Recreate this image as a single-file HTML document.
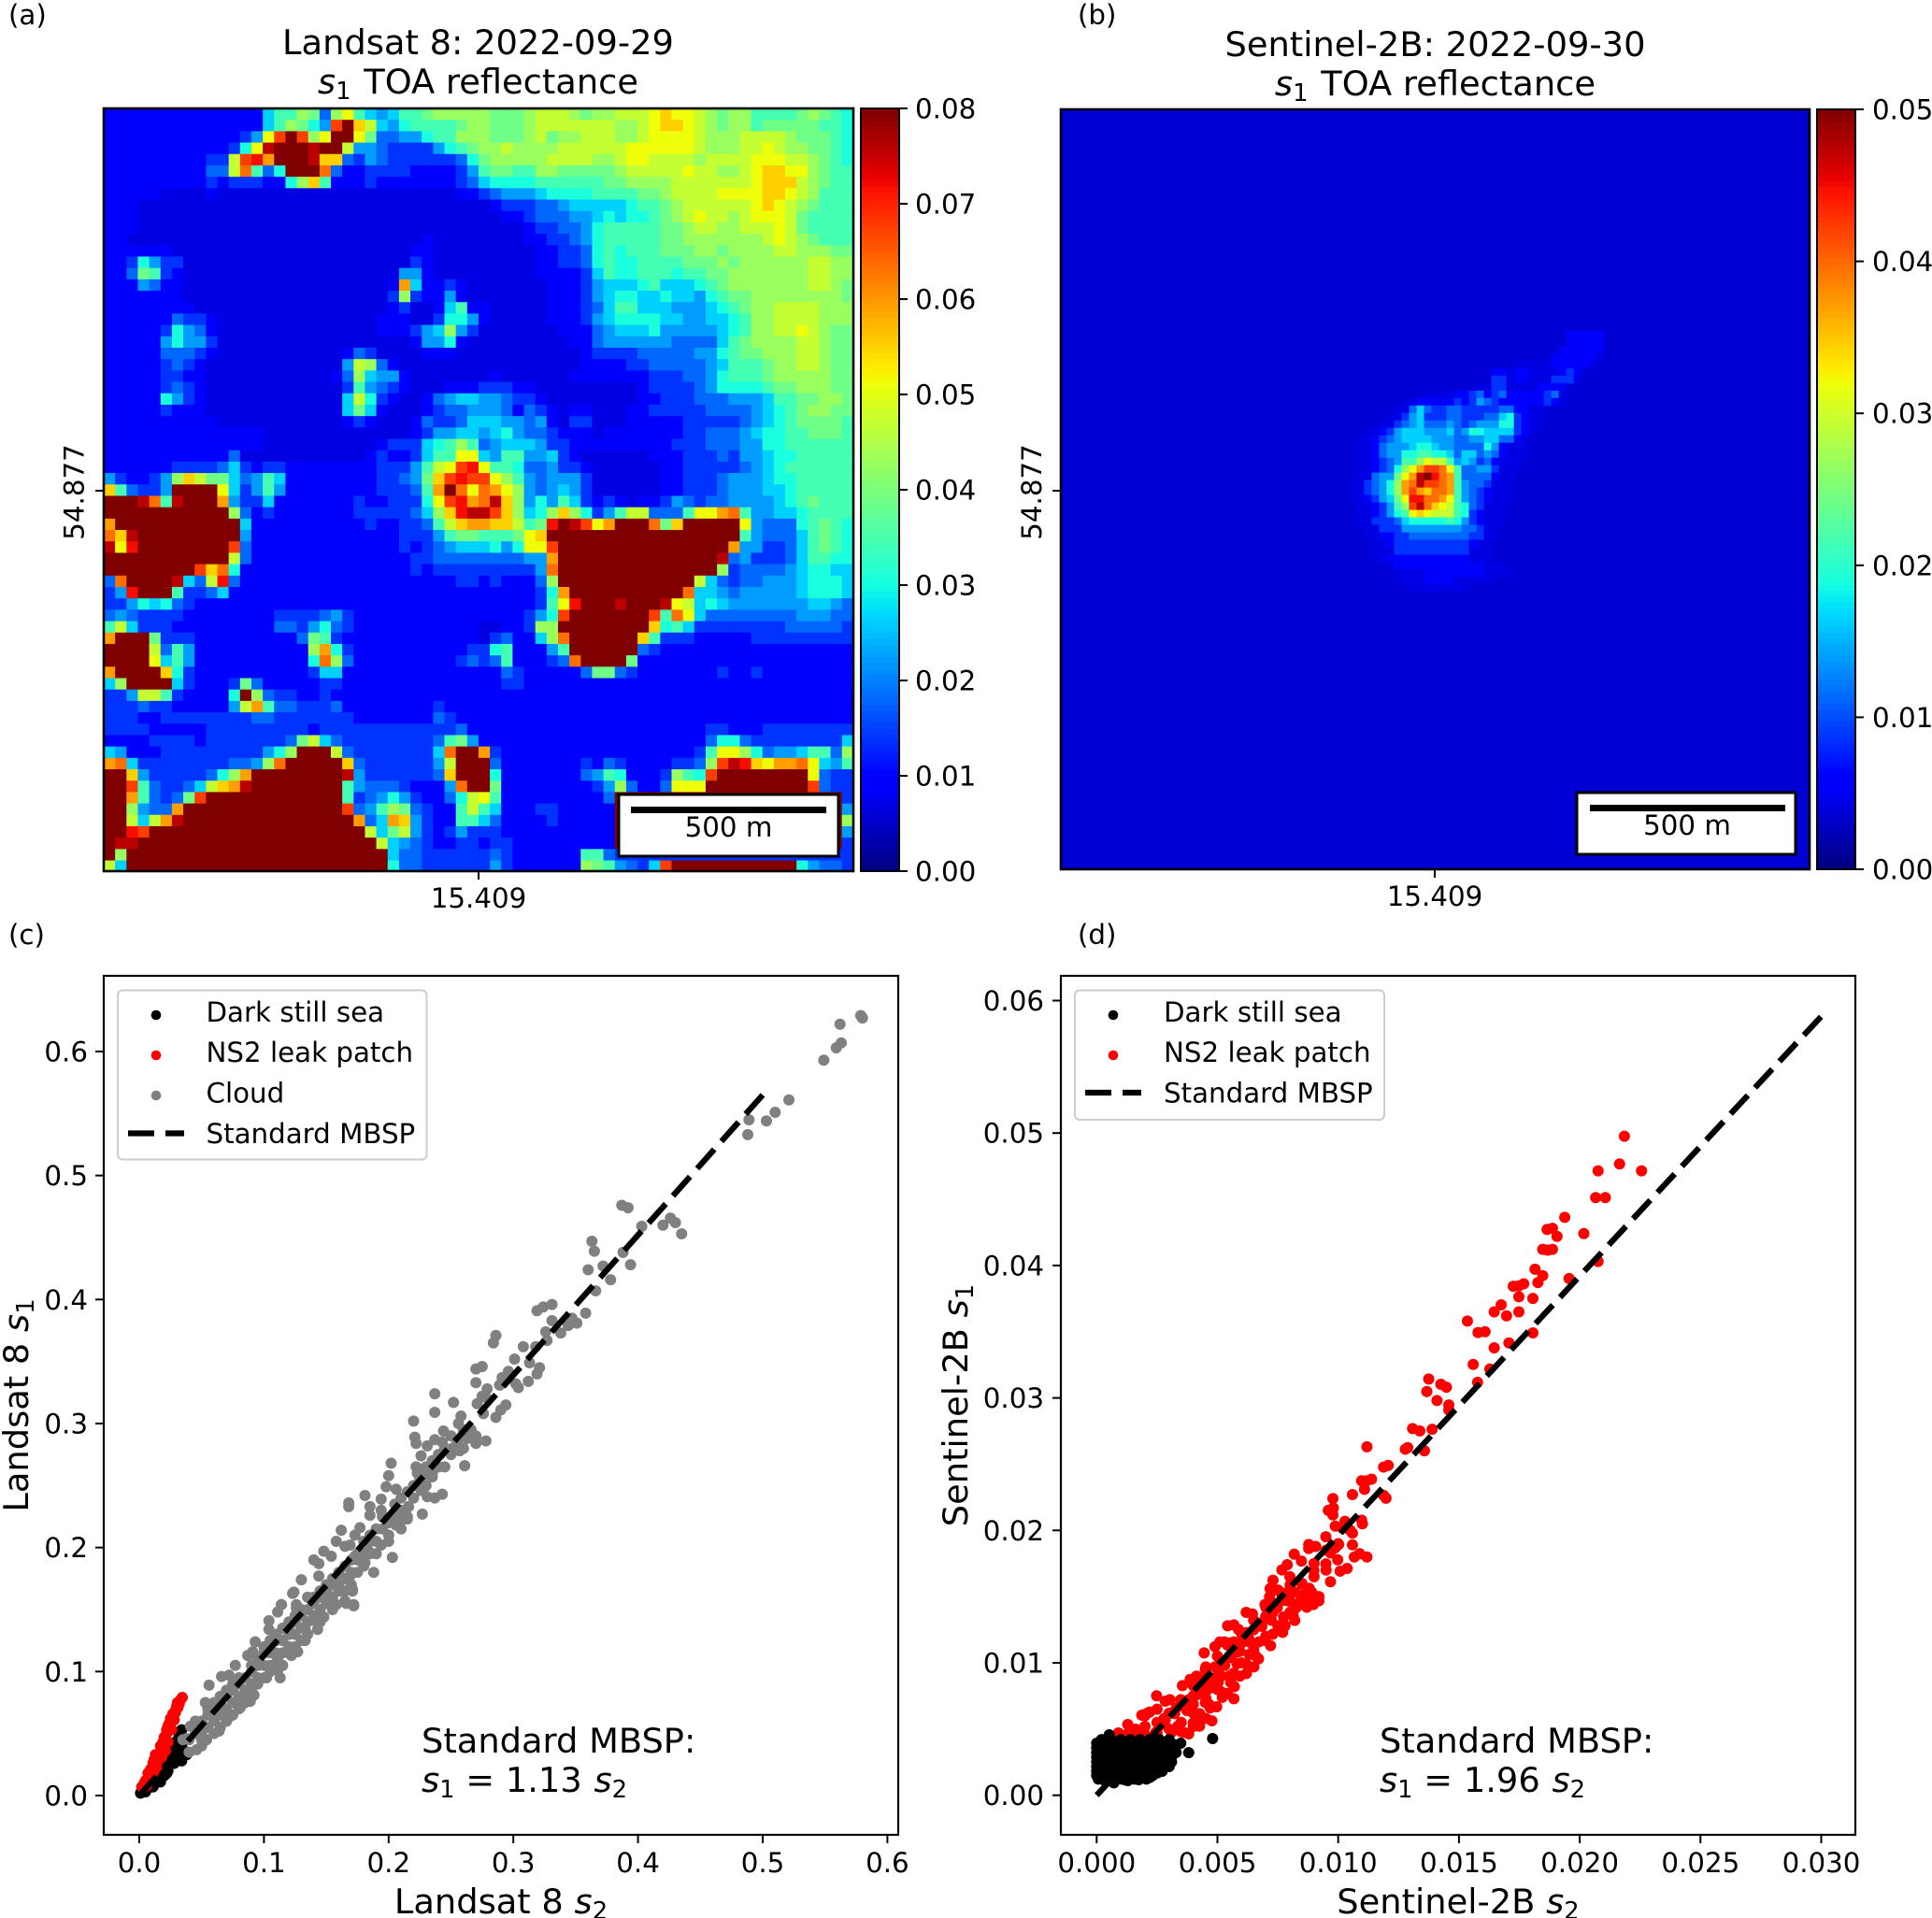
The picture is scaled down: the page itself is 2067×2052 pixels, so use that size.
<!DOCTYPE html>
<html lang="en">
<head>
<meta charset="utf-8">
<title>Landsat 8 and Sentinel-2B s1 TOA reflectance</title>
<style>
html,body{margin:0;padding:0;background:#fff}
svg{display:block}
text{font-family:"DejaVu Sans","Liberation Sans",sans-serif;fill:#000}
.tl{font-size:29.3px}
.ti{font-size:36.8px}
</style>
</head>
<body>
<svg id="fig" xmlns="http://www.w3.org/2000/svg" width="2067" height="2052" viewBox="0 0 2067 2052">
<defs>
<clipPath id="clipA"><rect x="111" y="116" width="802" height="816"/></clipPath>
<clipPath id="clipB"><rect x="1135" y="117" width="801" height="813"/></clipPath>
</defs>
<rect x="0" y="0" width="2067" height="2052" fill="#fff"/>
<g id="heatA" clip-path="url(#clipA)"></g>
<g id="heatB" clip-path="url(#clipB)"></g>
<g id="cbarA"></g>
<g id="cbarB"></g>
<g id="plotC"></g>
<g id="plotD"></g>

<rect x="111" y="116" width="802" height="816" fill="none" stroke="#000" stroke-width="2.6"/>
<rect x="1135" y="117" width="801" height="813" fill="none" stroke="#000" stroke-width="2.6"/>
<rect x="111" y="1044" width="850" height="919" fill="none" stroke="#000" stroke-width="2.2"/>
<rect x="1135" y="1044" width="850" height="919" fill="none" stroke="#000" stroke-width="2.2"/>

<text x="9" y="26" class="tl">(a)</text>
<text x="1153" y="26" class="tl">(b)</text>
<text x="9" y="1010" class="tl">(c)</text>
<text x="1153" y="1010" class="tl">(d)</text>

<text x="511.5" y="58" text-anchor="middle" class="ti">Landsat 8: 2022-09-29</text>
<text x="511.5" y="100" text-anchor="middle" class="ti"><tspan font-style="italic">s</tspan><tspan font-size="25.8" dy="6">1</tspan><tspan dy="-6" dx="2"> TOA reflectance</tspan></text>
<text x="1535.5" y="60" text-anchor="middle" class="ti">Sentinel-2B: 2022-09-30</text>
<text x="1535.5" y="102" text-anchor="middle" class="ti"><tspan font-style="italic">s</tspan><tspan font-size="25.8" dy="6">1</tspan><tspan dy="-6" dx="2"> TOA reflectance</tspan></text>

<line x1="102" y1="525" x2="111" y2="525" stroke="#000" stroke-width="2"/>
<text transform="translate(89.5,526.5) rotate(-90)" text-anchor="middle" class="tl">54.877</text>
<line x1="512" y1="932" x2="512" y2="941" stroke="#000" stroke-width="2"/>
<text x="512" y="971" text-anchor="middle" class="tl">15.409</text>
<line x1="1126" y1="525" x2="1135" y2="525" stroke="#000" stroke-width="2"/>
<text transform="translate(1114,526.5) rotate(-90)" text-anchor="middle" class="tl">54.877</text>
<line x1="1535" y1="930" x2="1535" y2="939" stroke="#000" stroke-width="2"/>
<text x="1535" y="969" text-anchor="middle" class="tl">15.409</text>

<g>
<rect x="662" y="850" width="235" height="66" fill="#fff" stroke="#000" stroke-width="3"/>
<rect x="675" y="863" width="209" height="7" fill="#000"/>
<text x="779.5" y="895" text-anchor="middle" class="tl">500 m</text>
</g>
<g>
<rect x="1687" y="848" width="234" height="66" fill="#fff" stroke="#000" stroke-width="3"/>
<rect x="1701" y="861" width="209" height="7" fill="#000"/>
<text x="1805" y="893" text-anchor="middle" class="tl">500 m</text>
</g>

<g>
<rect x="126" y="1059.5" width="330.5" height="181" rx="5" fill="#fff" fill-opacity="0.8" stroke="#ccc" stroke-width="2"/>
<circle cx="167" cy="1086" r="5.3" fill="#000"/>
<text x="220.5" y="1093" class="tl">Dark still sea</text>
<circle cx="167" cy="1129" r="5.3" fill="#f00"/>
<text x="220.5" y="1136" class="tl">NS2 leak patch</text>
<circle cx="167" cy="1172" r="5.3" fill="#808080"/>
<text x="220.5" y="1179.5" class="tl">Cloud</text>
<line x1="137" y1="1212.5" x2="197" y2="1212.5" stroke="#000" stroke-width="6.3" stroke-dasharray="28 12"/>
<text x="220.5" y="1223" class="tl">Standard MBSP</text>
</g>
<g>
<rect x="1150" y="1059.5" width="331" height="138.5" rx="5" fill="#fff" fill-opacity="0.8" stroke="#ccc" stroke-width="2"/>
<circle cx="1191" cy="1086" r="5.3" fill="#000"/>
<text x="1245" y="1093" class="tl">Dark still sea</text>
<circle cx="1191" cy="1129" r="5.3" fill="#f00"/>
<text x="1245" y="1136" class="tl">NS2 leak patch</text>
<line x1="1161" y1="1169" x2="1221" y2="1169" stroke="#000" stroke-width="6.3" stroke-dasharray="28 12"/>
<text x="1245" y="1179.5" class="tl">Standard MBSP</text>
</g>

<text x="451" y="1875" class="ti">Standard MBSP:</text>
<text x="451" y="1917" class="ti"><tspan font-style="italic">s</tspan><tspan font-size="25.8" dy="6">1</tspan><tspan dy="-6"> = 1.13 </tspan><tspan font-style="italic" dx="1">s</tspan><tspan font-size="25.8" dy="6">2</tspan></text>
<text x="1476" y="1875" class="ti">Standard MBSP:</text>
<text x="1476" y="1917" class="ti"><tspan font-style="italic">s</tspan><tspan font-size="25.8" dy="6">1</tspan><tspan dy="-6"> = 1.96 </tspan><tspan font-style="italic" dx="1">s</tspan><tspan font-size="25.8" dy="6">2</tspan></text>

<text x="536" y="2047" text-anchor="middle" class="ti">Landsat 8 <tspan font-style="italic">s</tspan><tspan font-size="25.8" dy="6">2</tspan></text>
<text x="1560" y="2047" text-anchor="middle" class="ti">Sentinel-2B <tspan font-style="italic">s</tspan><tspan font-size="25.8" dy="6">2</tspan></text>
<text transform="translate(30,1503.5) rotate(-90)" text-anchor="middle" class="ti">Landsat 8 <tspan font-style="italic">s</tspan><tspan font-size="25.8" dy="6">1</tspan></text>
<text transform="translate(1035,1503.5) rotate(-90)" text-anchor="middle" class="ti">Sentinel-2B <tspan font-style="italic">s</tspan><tspan font-size="25.8" dy="6">1</tspan></text>
</svg>

<script>
// ---------- shared level alphabet of the heatmaps (lowest to saturated) ----------
const heatLevels = "0123456789abcdefghij";
const vmaxA = 0.08;
const vmaxB = 0.05;
const colorbarTicksA = [0, 0.01, 0.02, 0.03, 0.04, 0.05, 0.06, 0.07, 0.08];
const colorbarTicksB = [0, 0.01, 0.02, 0.03, 0.04, 0.05];

// ---------- panel (a) Landsat 8 s1: columns 0-32 ----------
const heatARowsLeft = [
"22222222222222688a94ac8656889aaaa",
"2222222222222268a975gjdb65788889a",
"22222222222235cgjgacjjc94455788aa",
"2222222222237cijjjijjb55433335789",
"22222222233bghejjjidd435433333347",
"22222222244bf847jjjf4223333222235",
"22222222232333227ad82223222222234",
"222221111211111111111111111111122",
"222111111111111111111111111111111",
"222111111111111111111111111111111",
"222111111111111111111111111111111",
"221111111111111111111111111121111",
"222222111111111111111111111221111",
"2237533"+"11111111111111111111"+"321111",
"2249832"+"1111111111111111111"+"5521111",
"2225422"+"111111111111111111"+"2e622321",
"2222222"+"111111111111111111"+"3a322521",
"22222222"+"11111111111111111"+"23112682",
"222222"+"4332"+"11111111111111"+"222"+"11"+"3775",
"22222"+"37542"+"11111111111111"+"222"+"3"+"56a53",
"22222"+"57553"+"11111111111111111"+"255721",
"22222"+"44432"+"11111111111"+"243"+"1111"+"222"+"11",
"22222"+"34321"+"11111111111"+"5ba42"+"1111111",
"22222"+"33221"+"1111111111"+"2"+"4a6552"+"111111",
"22222"+"34321"+"11111111111"+"385432"+"111"+"222",
"22222"+"75321"+"11111111111"+"6b73211"+"24566",
"22222"+"32221"+"11111111111"+"696211123445",
"2222222222"+"11111111111"+"232111243346",
"22222222222222"+"1111111"+"111111235566",
"22222222222222"+"1111111"+"1112333678a8",
"22222222222"+"4"+"11111111111"+"23223688cc",
"222222"+"3333"+"46"+"32332"+"2222222"+"33358bcgh",
"532235adb99645862"+"2222222"+"33459dghg",
"d84335jjjjc635852"+"2222222"+"33348ejfc",
"jjjif8ijjje53362"+"222222"+"3223337cghe",
"jjjjjjjjjjj"+"a423"+"2222222"+"3333346adhi",
"e"+"jjjjjjjjjjj"+"6"+"2222222222"+"3223348bde",
"fdi"+"jjjjjjjjj"+"5"+"2222222222222"+"3335899",
"ich"+"jjjjjjjj"+"g4"+"2222222222222"+"3234566",
"jjjjjjjjjjj"+"b4"+"22222222222222"+"334444",
"jjjjjjjj"+"gdf7"+"222222222222222"+"323333",
"4fjjjji64bh4"+"2222222222222222222"+"33",
"35hjjj83346"+"2222222222222222222222",
"33576743"+"2222222222222222222222222",
"4543333"+"22222222"+"3333453"+"22222222222",
"8b6333"+"222222222"+"4435743"+"22222222222",
"ejjj9333"+"22222222"+"249832"+"22222222222",
"jjjjb485"+"222222222"+"2ae73"+"2222222222"+"3",
"jjjjc685"+"2222222222"+"7fa4"+"222222222"+"34",
"ejjjjd73"+"2222222222"+"3662"+"22222222222",
"6ajjjj63"+"222"+"394"+"22222"+"33"+"222222222222",
"335bb83"+"2222"+"7ja433"+"22"+"3"+"2222222222222",
"3334332"+"2222"+"5be8443334"+"22222222"+"3222",
"3332233333333"+"4433333"+"332222222"+"4322",
"333322222333333333"+"23"+"3333333333"+"342",
"2222333323333333"+"49b64"+"33333333"+"4895",
"65222333333333"+"57ajjjb4"+"3333333"+"6fjj",
"ef6"+"3333333"+"3445"+"af"+"jjjjj"+"d4"+"333333"+"5bjj",
"jjd5333334"+"7ae"+"jjjjjjjj"+"i5"+"333333"+"4djj",
"jjg843346bdei"+"jjjjjjjj"+"854443"+"222"+"5fj",
"jje84349g"+"jjjjjjjjjjjj"+"8345753"+"22"+"47b",
"jja544e"+"jjjjjjjjjjjjjj"+"g458a943"+"22"+"8b",
"jjb6bei"+"jjjjjjjjjjjjjjj"+"e46ed53"+"22"+"88",
"jjhg"+"jjjjjjjjjjjjjjjjjjj"+"b69b53"+"2353",
"jii"+"jjjjjjjjjjjjjjjjjjjjj"+"b6543"+"2233",
"ja"+"jjjjjjjjjjjjjjjjjjjjjjj"+"6443"+"3333",
"b6"+"jjjjjjjjjjjjjjjjjjjjjjj"+"7443"+"3333"
];

// ---------- panel (a) Landsat 8 s1: columns 33-65 ----------
const heatARowsRight = [
"a999abbba9aabbbcdccba9aa88889a987",
"a999abbbbbbbaabcddcba9aa899999887",
"a999ab9aabbbaabccccbaaabbbba99987",
"aabaaaabbbbbbccccccbaaabbcbaa9987",
"9aaaaabbbbaabccbbbbabbbbcccbba987",
"89988aa99999abbbbbcbbaabcddcca988",
"6777788888899aaaabbbbbbbcdddba988",
"34555"+"6"+"7777"+"8888"+"99"+"a"+"bbbb"+"cccc"+"dd"+"cba"+"888",
"12333"+"44"+"5"+"66666"+"7"+"88"+"9a"+"bbbbbb"+"cdcba9"+"888",
"11223444556767789abcbbabcccb98888",
"1111233445"+"7"+"88888"+"99"+"a"+"bb"+"aa"+"bbb"+"cb9"+"8888",
"1111223345"+"7"+"88888"+"99"+"aaaaaaa"+"bcba9"+"888",
"1111122334"+"7"+"87888"+"999"+"aa"+"9"+"aaaa"+"bb"+"aaa"+"99",
"1111122334"+"78778888999a9aaaaaabbaa",
"1111122223"+"687788878899"+"aaaaaaa"+"bb"+"aa",
"1111112223"+"566678666789"+"aaaaaaa"+"bb"+"a9",
"1111112223"+"56776676657899"+"aaaaaaaa"+"9",
"21111122234"+"6886665556789"+"aa"+"bbbb"+"aaa",
"2111112223"+"56777766556678"+"aa"+"bbbb"+"aaa",
"1111111222"+"45666755555678"+"aa"+"bbcb"+"a99",
"1111111122"+"45555554444689"+"aaaa"+"bb"+"a99",
"1111111112"+"33334444455789"+"9aaa"+"bb"+"a99",
"1111111112"+"2223344444568889"+"aa"+"bb"+"a99",
"12111111"+"2222222"+"333"+"44"+"57"+"888"+"9"+"aaaaa"+"99",
"33322"+"111111111"+"2"+"3333"+"45"+"7777"+"899"+"aaa"+"99",
"554332"+"11111111"+"22"+"333"+"444"+"555"+"6"+"88"+"99"+"aa"+"9",
"5542432"+"122"+"111"+"22"+"33333"+"4444"+"5678"+"9aa99",
"6655452"+"133"+"111"+"22222"+"33333"+"45678"+"99998",
"5675443"+"222"+"1"+"2222222"+"33"+"444"+"5677"+"88"+"9998",
"45666533"+"222222222"+"333"+"444"+"55"+"77"+"888888",
"658855632"+"111111"+"222"+"333"+"43"+"55"+"6"+"77"+"88888",
"c887445332"+"111111"+"22"+"33333"+"4567"+"888888",
"gca8545553"+"111111"+"22"+"333"+"4555"+"677"+"88888",
"feca545653"+"111111"+"22"+"333"+"4555"+"667"+"88888",
"fida575863"+"232122354344"+"5555"+"67"+"89888",
"igda67ada7358bb4448ccef8556678888",
"eddb89hjigcejjjf9djjjjjc544478987",
"8889cd"+"jjjjjjjjjjjjjjjjj"+"8544468987",
"6757ccg"+"jjjjjjjjjjjjjjj"+"e"+"5533468987",
"444455e"+"jjjjjjjjjjjjjj"+"i"+"45333468877",
"333335f"+"jjjjjjjjjjjjjj"+"a"+"34444567766",
"232224a"+"jjjjjjjjjjjj"+"b6434455567776",
"2222237e"+"jjjjjjjjjj"+"f"+"66545555567776",
"2222238"+"chjjjijjjicb"+"67655555556654",
"2222357g"+"jjjjjjj"+"g8fc6"+"44444444"+"555"+"44",
"11223aa"+"jjjjjjjj"+"d786"+"33333333"+"44444"+"3",
"134226af"+"jjjjjj"+"d8"+"333"+"22222"+"333333333",
"37822258"+"jjjjjj"+"43"+"22222222222222222",
"34822234f"+"jjjj"+"9"+"2222222222222222222",
"22432222249943"+"2222222"+"3223"+"22222222",
"2233"+"22222222222222222222222222222",
"222222222222222222222222222222222",
"222222222222222222222222222222222",
"222222222222222222222222222222222",
"22222222222222222222"+"3322233333333",
"22222222222222222222"+"4774333333336",
"e3"+"22222222222222222"+"38cca74556884a",
"j4"+"2222222"+"32432222334agihdceefc658",
"j7"+"2222222"+"4587"+"2223"+"a87g"+"jjjjjjjj"+"c433",
"j9"+"22222222"+"35a4"+"224"+"ccc"+"jjjjjjjjj"+"g433",
"c8"+"22222222"+"24"+"jjjjjjjjjjjjjjjjjjjj"+"3",
"86"+"22233"+"22222"+"jjjjjjjjjjjjjjjjjjjj"+"5",
"64"+"22223"+"22222"+"jjjjjjjjjjjjjjjjjjjj"+"a",
"33"+"22222"+"22222"+"jjjjjjjjjjjjjjjjjjjj"+"5",
"23"+"32222"+"22222"+"jjjjjjjjjjjjjjjjjjjj"+"3",
"34"+"3222222"+"884"+"33333333333333333333"+"3",
"353"+"222222"+"a985436g"+"jjjjjjjjjjj"+"75443"
];

// ---------- panel (b) Sentinel-2B s1: sea background and plume cells ('.' = background) ----------
const seaBackgroundB = 0.0037;
const plumeStartColumn = 33.5;
const plumeStartRow = 29.7;
const heatBPlumeRows = [
".................................."+"22222",
".................................."+"22222",
"................................."+"222222",
"................................"+"2222221",
"..........................."+"11"+"111"+"222221",
"........................"+"22"+"1"+"22"+"1111"+"232",
"........................"+"33"+"1"+"22"+"111"+"3331",
"......................"+"11"+"33"+"1111"+"2222",
"..............."+"1111"+"22342342"+"222"+"234"+"1",
"............"+"11"+"22222"+"32354322"+"22"+"2232"+"1",
"..........."+"11"+"4643344333334422"+"11",
".........."+"11"+"35633344333446732"+"11",
"........."+"11"+"345644454345557732"+"11",
"......."+"11"+"23566655564577666632"+"1",
"......"+"11"+"23456666555445566442"+"1",
"......"+"11"+"245556776554444752"+"111",
"......"+"11"+"245577887764664542"+"111",
"......"+"11"+"234588acbb8565342"+"111",
"......"+"11"+"2347aceggfc844553"+"111",
"......"+"11"+"4559ceijhfe844442"+"11",
"....."+"11"+"3457aefiggfe85443"+"111",
"....."+"11"+"3457aegedffe85432"+"111",
"....."+"11"+"23569chhffec85432"+"111",
"......"+"11"+"2358agifdcb8743"+"111",
"......"+"11"+"23578cdcbbb8732"+"111",
"......"+"11"+"333467777787532"+"111",
"......."+"11"+"33355555555443"+"11",
"......."+"11"+"22334444444433"+"11",
"........"+"11"+"233333333332"+"11",
"........."+"11"+"3333333333"+"111",
"........"+"11"+"22222222222"+"111",
".........."+"1"+"222222222222"+"111",
"..........."+"1111"+"22222222"+"1111",
"..........."+"1111"+"2222"+"11111",
"............."+"11111111"
];

// ---------- panel (c) Landsat 8 scatter, [s2, s1] ----------
const mbspSlopeC = 1.13;
const mbspEndC = 0.5;
const xTicksC = [0, 0.1, 0.2, 0.3, 0.4, 0.5, 0.6];
const yTicksC = [0, 0.1, 0.2, 0.3, 0.4, 0.5, 0.6];
const darkSeaC = [[.034,.053],[.033,.046],[.038,.033],[.034,.028],[.031,.038],[.028,.026],[.023,.020],[.017,.011],[.011,.007],[.005,.003],[.001,.002],[.032,.033],[.026,.026],[.020,.016],[.013,.010],[.023,.031],[.018,.021],[.028,.041],[.034,.041],[.008,.008],
[.030,.044],[.032,.050],[.029,.035],[.026,.032],[.024,.027],[.021,.024],[.019,.019],[.016,.015],[.014,.013],[.012,.011],[.009,.009],[.007,.006],[.004,.004],[.003,.003],[.036,.036],[.030,.030],[.027,.029],[.022,.018],[.016,.013]];
const leakPatchC = [[.0345,.0791],[.0307,.075],[.0295,.070],[.027,.066],[.025,.062],[.023,.056],[.022,.050],[.019,.043],[.017,.040],[.013,.033],[.011,.026],[.007,.018],[.005,.012],[.002,.007],[.032,.074],[.028,.061],[.026,.053],[.021,.036],[.014,.023],[.010,.016],[.006,.008],[.023,.043],[.018,.031],
[.033,.077],[.031,.071],[.029,.067],[.026,.060],[.024,.058],[.022,.053],[.020,.047],[.018,.037],[.016,.034],[.015,.028],[.012,.029],[.009,.021],[.008,.014],[.004,.010],[.003,.006],[.020,.040],[.025,.055],[.030,.072],[.012,.020]];
const cloudC = [[.5786,.629],[.580,.627],[.562,.622],[.563,.607],[.559,.603],[.549,.593],[.521,.561],[.510,.551],[.503,.544],[.489,.545],[.488,.533],[.387,.476],[.392,.474],[.403,.459],[.420,.460],[.426,.4656],[.430,.462],[.435,.453],[.363,.447],[.365,.439],[.388,.438],[.394,.428],[.360,.424],[.372,.427],[.378,.416],[.366,.407],[.358,.389],[.331,.396],[.324,.394],[.319,.391],[.331,.383],[.347,.385],[.351,.381],[.344,.379],[.338,.373],[.326,.374],[.327,.367],[.286,.371],[.284,.365],[.308,.362],[.318,.362],[.301,.352],[.275,.346],[.270,.344],[.313,.349],[.321,.345],[.319,.340],[.296,.342],[.291,.337],[.270,.333],[.312,.334],[.302,.332],[.304,.329],[.289,.331],[.279,.328],[.237,.324],[.252,.317],[.294,.315],[.278,.321],[.275,.322],[.271,.316],[.237,.309],[.290,.311],[.286,.305],[.276,.308],[.258,.306],[.220,.302],[.256,.300],[.266,.295],[.244,.294],[.221,.289],[.270,.290],[.278,.286],[.270,.284],[.263,.288],[.222,.284],[.231,.282],[.237,.287],[.243,.285],[.251,.280],[.257,.278],[.226,.274],[.241,.275],[.202,.268],[.261,.266],[.222,.265],[.223,.260],[.231,.259],[.235,.257],[.200,.258],[.198,.249],[.206,.247],[.226,.246],[.231,.241],[.237,.240],[.243,.243],[.181,.242],[.194,.239],[.168,.236],[.168,.233],[.185,.233],[.194,.230],[.216,.233],[.227,.227],[.185,.226],[.212,.223],[.215,.223],[.206,.218],[.210,.215],[.177,.216],[.162,.214],[.173,.210],[.158,.205],[.187,.206],[.200,.205],[.194,.202],[.148,.197],[.154,.193],[.165,.201],[.169,.202],[.184,.197],[.203,.192],[.140,.190],[.144,.187],[.173,.193],[.181,.188],[.188,.180],[.130,.174],[.124,.164],[.144,.177],[.169,.177],[.171,.166],[.161,.166],[.114,.154],[.126,.154],[.146,.164],[.152,.161],[.165,.157],[.172,.154],
[.172,.153],[.166,.155],[.158,.154],[.171,.165],[.161,.165],[.123,.163],[.114,.154],[.126,.151],[.111,.148],[.104,.141],[.104,.134],[.143,.134],[.148,.144],[.141,.141],[.133,.134],[.133,.125],[.127,.116],[.122,.113],[.111,.110],[.113,.095],[.102,.095],[.111,.101],[.093,.124],[.091,.116],[.087,.113],[.077,.105],[.066,.096],[.072,.097],[.089,.076],[.092,.081],[.081,.071],[.073,.064],[.064,.052],[.056,.089],[.053,.075],[.041,.056],[.046,.037],[.054,.045],[.038,.046],
[.045,.05],[.05,.06],[.055,.055],[.06,.07],[.065,.065],[.07,.08],[.075,.075],[.08,.09],[.085,.085],[.09,.10],[.095,.095],[.10,.115],[.105,.105],[.11,.125],[.115,.115],[.12,.135],[.125,.13],[.13,.145],[.135,.14],[.14,.155],[.145,.15],[.15,.17],[.155,.16],[.16,.18],[.065,.08],[.075,.09],[.085,.075],[.095,.11],[.105,.125],[.115,.135],[.125,.145],[.135,.16],[.145,.165],[.155,.175],[.165,.185],[.17,.19],[.18,.205],[.19,.215],[.175,.18],[.185,.195],[.16,.17],[.05,.04],[.06,.05],[.07,.06],[.08,.07],[.09,.085],[.10,.095],[.11,.105],[.12,.12],[.13,.125],[.055,.07],[.04,.045],
[.035,.045],[.04,.035],[.045,.06],[.05,.05],[.05,.045],[.055,.065],[.06,.06],[.06,.075],[.065,.07],[.065,.055],[.07,.07],[.07,.085],[.075,.085],[.075,.065],[.08,.08],[.08,.095],[.085,.095],[.085,.08],[.09,.09],[.09,.105],[.095,.105],[.095,.09],[.10,.105],[.10,.12],[.105,.115],[.105,.10],[.11,.115],[.11,.13],[.115,.125],[.115,.105],[.12,.13],[.12,.14],[.125,.14],[.125,.12],[.13,.135],[.13,.15],[.135,.15],[.135,.13],[.14,.145],[.14,.16],[.145,.16],[.145,.14],[.15,.155],[.15,.165],[.155,.17],[.155,.15],[.16,.165],[.16,.175],[.165,.175],[.165,.165],[.17,.18],[.17,.17],[.175,.19],[.175,.195],[.18,.195],[.18,.185],[.185,.205],[.185,.21],[.19,.205],[.19,.195],[.195,.215],[.195,.225],[.2,.22],[.2,.21],[.205,.235],[.205,.225],[.21,.23],[.21,.24],[.215,.245],[.215,.225],[.22,.25],[.22,.24],[.225,.255],[.225,.26],[.23,.265],[.23,.25],[.235,.27],[.235,.26],[.24,.275],[.24,.265],[.245,.28],[.245,.265],[.25,.29],[.25,.275],[.255,.285],[.26,.295],[.26,.28]];

// ---------- panel (d) Sentinel-2B scatter, [s2, s1] ----------
const mbspSlopeD = 1.96;
const mbspEndD = 0.03;
const xTicksD = [0, 0.005, 0.01, 0.015, 0.02, 0.025, 0.03];
const yTicksD = [0, 0.01, 0.02, 0.03, 0.04, 0.05, 0.06];
const darkSeaD = [[.00480,.00428],[.00381,.00322],[.00348,.00393],[.00052,.00457],
[.00000,.00393],[.00039,.00393],[.00078,.00393],[.00116,.00393],[.00155,.00393],[.00194,.00393],[.00232,.00393],[.00271,.00393],[.00310,.00393],
[.00000,.00323],[.00039,.00323],[.00078,.00323],[.00116,.00323],[.00155,.00323],[.00194,.00323],[.00232,.00323],[.00271,.00323],[.00310,.00323],[.00329,.00323],
[.00000,.00252],[.00039,.00252],[.00078,.00252],[.00116,.00252],[.00155,.00252],[.00194,.00252],[.00232,.00252],[.00271,.00252],[.00310,.00252],
[.00000,.00181],[.00039,.00181],[.00078,.00181],[.00116,.00181],[.00155,.00181],[.00194,.00181],[.00232,.00181],[.00271,.00181],
[.00007,.00122],[.00052,.00122],[.00103,.00122],[.00155,.00122],[.00206,.00122],
[.00071,.00094],[.00129,.00111],[.00174,.00118],[.00252,.00170],
[.00000,.00358],[.00000,.00288],[.00000,.00217],[.00000,.00150],[.00039,.00150],[.00078,.00150],[.00116,.00150],[.00155,.00150],[.00194,.00150],[.00232,.00150],
[.00039,.00358],[.00078,.00358],[.00116,.00358],[.00155,.00358],[.00194,.00358],[.00232,.00358],[.00271,.00358],[.00310,.00358],
[.00039,.00288],[.00078,.00288],[.00116,.00288],[.00155,.00288],[.00194,.00288],[.00232,.00288],[.00271,.00288],[.00310,.00288],
[.00039,.00217],[.00078,.00217],[.00116,.00217],[.00155,.00217],[.00194,.00217],[.00232,.00217],[.00271,.00217],[.00300,.00217],
[.00030,.00115],[.00070,.00115],[.00120,.00115],[.00170,.00130],[.00220,.00135],[.00020,.00420],[.00060,.00420],[.00100,.00420],[.00140,.00420],[.00180,.00420],[.00220,.00420],[.00260,.00420],[.00300,.00420],[.00020,.00190],[.00060,.00190],[.00100,.00190],[.00140,.00190],[.00180,.00190],[.00220,.00190],[.00260,.00190]];
const leakPatchD = [[.02185,.04976],[.02076,.04715],[.02165,.04767],[.02256,.04715],[.02066,.04513],[.02106,.04513],[.01938,.04364],[.02017,.04241],[.01865,.04272],[.01887,.04281],[.01906,.04220],[.01847,.04122],[.01867,.04116],[.01887,.04122],[.02076,.04030],[.01815,.03972],[.01847,.03923],[.01956,.03901],[.01827,.03871],[.01725,.03843],[.01748,.03846],[.01768,.03862],[.01748,.03764],[.01806,.03751],[.01675,.03703],[.01646,.03650],[.01697,.03620],[.01748,.03650],[.01535,.03580],[.01579,.03494],[.01608,.03500],[.01806,.03491],[.01707,.03415],[.01646,.03378],[.01559,.03253],[.01628,.03219],[.01577,.03118],[.01375,.03143],[.01425,.03103],[.01448,.03081],[.01367,.03048],[.01409,.02980],[.01458,.02947],[.01458,.02910],[.01308,.02769],[.01338,.02751],[.01389,.02763],[.01119,.02631],[.01278,.02613],[.01288,.02625],[.01357,.02601],[.01188,.02478],[.01207,.02491],[.01097,.02374],[.01117,.02374],[.01138,.02387],[.01109,.02310],[.01059,.02270],[.01188,.02264],[.01198,.02243],[.00978,.02240],[.00959,.02151],[.00980,.02169],[.00978,.02117],[.01028,.02068],[.00988,.02032],[.01018,.02016],[.01097,.02077],[.01059,.01979],[.00949,.01952],[.00878,.01894],[.00907,.01879],[.00878,.01863],[.01002,.01894],[.00988,.01869],[.01059,.01891],[.00818,.01820],[.00848,.01768],[.00968,.01830],[.01089,.01824],[.01119,.01799],[.01067,.01799],[.00789,.01741],[.00767,.01701],[.00899,.01698],[.00949,.01747],[.00998,.01778],[.01037,.01713],[.01008,.01692],[.00730,.01624],[.00968,.01612],[.00801,.01588],[.00850,.01594],[.00880,.01563],[.00718,.01560],[.00761,.01533],[.00820,.01533],[.00890,.01517],[.00870,.01487],[.00919,.01471],[.00712,.01456],[.00781,.01471],[.00840,.01456],
[.00920,.01468],[.00897,.01440],[.00890,.01534],[.00864,.01475],[.00826,.01416],[.00813,.01358],[.00780,.01280],[.00729,.01216],[.00697,.01169],[.00716,.01499],[.00697,.01440],[.00619,.01381],[.00645,.01369],[.00542,.01280],[.00568,.01287],[.00587,.01252],[.00658,.01052],[.00651,.00969],[.00593,.00899],[.00568,.00729],[.00542,.00769],[.00497,.00668],[.00477,.00562],[.00452,.00581],[.00426,.00616],[.00400,.00546],[.00381,.00464],[.00426,.00522],[.00248,.00751],[.00303,.00722],[.00284,.00711],[.00348,.00722],[.00387,.00875],[.00355,.00828],[.00413,.00899],[.00445,.01075],[.00490,.01122],[.00510,.01158],[.00529,.01158],[.00219,.00628],[.00187,.00605],[.00129,.00534],[.00090,.00471],[.00161,.00499],[.00206,.00616],[.00284,.00569],[.00336,.00522],[.00258,.00522],[.00310,.00475],[.00181,.00475],[.00129,.00464],[.00245,.00475],[.00361,.00475],[.00465,.00687],[.00516,.00781],[.00581,.00993],[.00632,.01064],[.00671,.01158],[.00568,.01158],[.00593,.01087],[.00490,.00969],[.00452,.00969],[.00439,.00875],[.00516,.00899],[.00568,.00922],[.00465,.00805],[.00413,.00758],[.00374,.00640],[.00323,.00616],[.00619,.01228],[.00723,.01322],[.00774,.01346],[.00748,.01416],[.00800,.01463],[.00852,.01510],[.00619,.00993],[.00555,.00852],[.00400,.00687],[.00452,.00734],[.00503,.00852],[.00555,.01040],[.00632,.01158],[.00684,.01275],[.00542,.01134],[.00516,.01016],[.00400,.00828],
[.0015,.0048],[.002,.0052],[.0025,.0055],[.003,.0062],[.0035,.0068],[.004,.0075],[.0045,.0085],[.005,.0095],[.0055,.0105],[.006,.0115],[.0065,.0125],[.007,.0135],[.0075,.0145],[.008,.0155],
[.002,.0046],[.0025,.0047],[.003,.0050],[.0035,.0055],[.004,.0062],[.0045,.0070],[.005,.0080],[.0055,.0090],[.006,.0100],[.0065,.0110],[.007,.0120],[.0075,.0128],[.008,.0138],[.0085,.0148],
[.0028,.0058],[.0033,.0066],[.0038,.0072],[.0043,.0080],[.0048,.0088],[.0053,.0098],[.0058,.0108],[.0063,.0118],[.0068,.0130],[.0073,.0138],[.0078,.0150],
[.0042,.0056],[.0047,.0066],[.0052,.0074],[.0057,.0082],[.0062,.0092],[.0067,.0103],[.0072,.0113],[.0077,.0123],[.0082,.0132],[.0087,.0142],[.0092,.0150],
[.0035,.0048],[.0040,.0052],[.0025,.0065],[.0020,.0060],[.0045,.0095],[.0050,.0105],[.0055,.0115],[.0060,.0122],[.0065,.0132],[.0070,.0142],
[.0090,.0165],[.0095,.0170],[.0085,.0160],[.0100,.0190],[.0095,.0185],[.0105,.0200],[.0090,.0175],[.0080,.0165],[.0075,.0155],[.0110,.0205]];

// ---------- axis functions ----------
const xHeatA = function (col) { return 111 + col * 12.15; };
const yHeatA = function (row) { return 116 + row * 12.19; };
const xHeatB = function (col) { return 1135 + col * 8.01; };
const yHeatB = function (row) { return 117 + row * 7.98; };
const xC = function (v) { return 149 + v * 1334; };
const yC = function (v) { return 1921 - v * 1326.7; };
const xD = function (v) { return 1173.3 + v * 25840; };
const yD = function (v) { return 1920.7 - v * 14170; };

const SVGNS = "http://www.w3.org/2000/svg";
function make(tag, parent, attrs) {
  const el = document.createElementNS(SVGNS, tag);
  for (const k in attrs) el.setAttribute(k, attrs[k]);
  parent.appendChild(el);
  return el;
}
function interp(stops, t) {
  for (let i = 1; i < stops.length; i++) {
    if (t <= stops[i][0]) {
      const a = stops[i - 1], b = stops[i];
      return a[1] + (b[1] - a[1]) * (t - a[0]) / (b[0] - a[0]);
    }
  }
  return stops[stops.length - 1][1];
}
const jetR = [[0, 0], [0.35, 0], [0.66, 1], [0.89, 1], [1, 0.5]];
const jetG = [[0, 0], [0.125, 0], [0.375, 1], [0.64, 1], [0.91, 0], [1, 0]];
const jetB = [[0, 0.5], [0.11, 1], [0.34, 1], [0.65, 0], [1, 0]];
function jet(t) {
  t = Math.max(0, Math.min(1, t));
  return "rgb(" + Math.round(255 * interp(jetR, t)) + "," + Math.round(255 * interp(jetG, t)) + "," + Math.round(255 * interp(jetB, t)) + ")";
}
function levelValue(ch, vmax) {
  const idx = heatLevels.indexOf(ch);
  if (idx === 1) return vmax * 0.085;
  return vmax * (idx + 0.4) / 19.4;
}

// ---------- panel (a) heatmap ----------
const heatA = document.getElementById("heatA");
heatARowsLeft.forEach(function (leftPart, r) {
  const row = leftPart + heatARowsRight[r];
  for (let c = 0; c < row.length; c++) {
    const cell = make("rect", heatA, {
      x: xHeatA(c), y: yHeatA(r), width: 12.65, height: 12.69,
      fill: jet(levelValue(row[c], vmaxA) / vmaxA)
    });
    
    
  }
});

// ---------- panel (b) heatmap ----------
const heatB = document.getElementById("heatB");
const seaRect = make("rect", heatB, { x: 1135, y: 117, width: 801, height: 813, fill: jet(seaBackgroundB / vmaxB) });


heatBPlumeRows.forEach(function (row, r) {
  for (let c = 0; c < row.length; c++) {
    if (row[c] === ".") continue;
    const cell = make("rect", heatB, {
      x: xHeatB(plumeStartColumn + c), y: yHeatB(plumeStartRow + r), width: 8.4, height: 8.4,
      fill: jet(levelValue(row[c], vmaxB) / vmaxB)
    });
    
    
  }
});

// ---------- colorbars ----------
function colorbar(groupId, left, width, top, bottom, vmax, ticks, labelX) {
  const g = document.getElementById(groupId);
  const scale = function (v) { return bottom - (v / vmax) * (bottom - top); };
  const steps = 128;
  for (let i = 0; i < steps; i++) {
    const lo = vmax * i / steps, hi = vmax * (i + 1) / steps;
    const strip = make("rect", g, { x: left, y: scale(hi), width: width, height: scale(lo) - scale(hi) + 0.6, fill: jet((lo + hi) / 2 / vmax) });
    
    
  }
  const frame = make("rect", g, { x: left, y: top, width: width, height: bottom - top, fill: "none", stroke: "#000", "stroke-width": 2 });
  
  
  ticks.forEach(function (t) {
    const y = scale(t);
    const tick = make("line", g, { x1: left + width, y1: y, x2: left + width + 9, y2: y, stroke: "#000", "stroke-width": 2 });
    
    
    const label = make("text", g, { x: labelX, y: y + 10.5, class: "tl" });
    label.textContent = t.toFixed(2);
    
    
  });
}
colorbar("cbarA", 921, 41, 116, 932, vmaxA, colorbarTicksA, 979);
colorbar("cbarB", 1944, 41, 117, 930, vmaxB, colorbarTicksB, 2003);

// ---------- scatter panels ----------
function scatter(groupId, xf, yf, series, slope, lineEnd, dashes, xTicks, yTicks, xDigits, yDigits, left, bottom, yLabelX) {
  const g = document.getElementById(groupId);
  series.forEach(function (s) {
    s.points.forEach(function (p) {
      const dot = make("circle", g, { cx: xf(p[0]), cy: yf(p[1]), r: 6, fill: s.color });
      
      
    });
  });
  const line = make("line", g, {
    x1: xf(0), y1: yf(0), x2: xf(lineEnd), y2: yf(lineEnd * slope),
    stroke: "#000", "stroke-width": 6.3, "stroke-dasharray": dashes
  });
  
  
  xTicks.forEach(function (t) {
    const x = xf(t);
    const tick = make("line", g, { x1: x, y1: bottom, x2: x, y2: bottom + 9, stroke: "#000", "stroke-width": 2 });
    
    
    const label = make("text", g, { x: x, y: 2003, "text-anchor": "middle", class: "tl" });
    label.textContent = t.toFixed(xDigits);
    
    
  });
  yTicks.forEach(function (t) {
    const y = yf(t);
    const tick = make("line", g, { x1: left - 9, y1: y, x2: left, y2: y, stroke: "#000", "stroke-width": 2 });
    
    
    const label = make("text", g, { x: yLabelX, y: y + 10.5, "text-anchor": "end", class: "tl" });
    label.textContent = t.toFixed(yDigits);
    
    
  });
}
scatter("plotC", xC, yC, [
  { name: "dark-sea-point", color: "#000", points: darkSeaC },
  { name: "leak-patch-point", color: "#f00", points: leakPatchC },
  { name: "cloud-point", color: "#808080", points: cloudC }
], mbspSlopeC, mbspEndC, "27.5 11.54", xTicksC, yTicksC, 1, 1, 111, 1963, 94);
scatter("plotD", xD, yD, [
  { name: "leak-patch-point", color: "#f00", points: leakPatchD },
  { name: "dark-sea-point", color: "#000", points: darkSeaD }
], mbspSlopeD, mbspEndD, "27 11.3", xTicksD, yTicksD, 3, 2, 1135, 1963, 1117);
</script>
</body>
</html>
